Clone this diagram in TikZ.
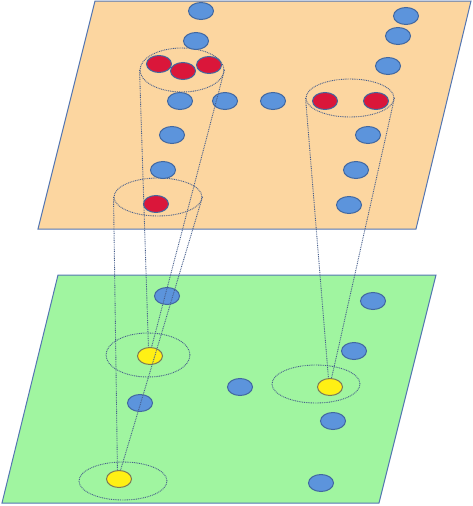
\documentclass[tikz,border=0pt]{standalone}
\usetikzlibrary{shapes.geometric}
\definecolor{planeedge}{RGB}{84,118,178}
\definecolor{orangefill}{RGB}{252,214,160}
\definecolor{greenfill}{RGB}{160,245,160}
\definecolor{bluedot}{RGB}{92,148,220}
\definecolor{dotedge}{RGB}{66,104,160}
\definecolor{reddot}{RGB}{218,22,58}
\definecolor{yellowdot}{RGB}{255,240,20}
\definecolor{dotline}{RGB}{70,94,140}
\tikzset{
  plane/.style={draw=planeedge, line width=1pt, line join=miter},
  pt/.style={ellipse, draw=dotedge, line width=1pt, minimum width=25pt, minimum height=17pt, inner sep=0pt},
  bpt/.style={pt, fill=bluedot},
  rpt/.style={pt, fill=reddot},
  ypt/.style={pt, fill=yellowdot, draw=black!60!yellow!80!gray},
  ring/.style={ellipse, draw=dotline, dash pattern=on 0.9pt off 0.9pt, line width=0.9pt, inner sep=0pt},
  cone/.style={draw=dotline, dash pattern=on 0.9pt off 0.9pt, line width=0.9pt}
}
\begin{document}
\begin{tikzpicture}[x=1pt,y=-1pt]
\useasboundingbox (0,0) rectangle (472,506);
% planes
\path[plane, fill=orangefill] (95,1) -- (471,1) -- (416,229) -- (38,229) -- cycle;
\path[plane, fill=greenfill] (58,275) -- (436,275) -- (379,503) -- (2,503) -- cycle;
% rings
\node[ring, minimum width=84pt, minimum height=44pt] (c1) at (182,70) {};
\node[ring, minimum width=88pt, minimum height=38pt] (c2) at (158,197) {};
\node[ring, minimum width=88pt, minimum height=38pt] (c3) at (350,98) {};
\node[ring, minimum width=84pt, minimum height=44pt] (d1) at (148,355) {};
\node[ring, minimum width=88pt, minimum height=38pt] (d2) at (123,481) {};
\node[ring, minimum width=88pt, minimum height=38pt] (d3) at (316,384) {};
% top plane points
\node[bpt] (t1) at (201,11) {};
\node[bpt] (t2) at (196,41) {};
\node[rpt] (r1) at (159,64) {};
\node[rpt] (r2) at (183,71) {};
\node[rpt] (r3) at (209,65) {};
\node[bpt] (t3) at (180,101) {};
\node[bpt] (t4) at (225,101) {};
\node[bpt] (t5) at (172,135) {};
\node[bpt] (t6) at (163,170) {};
\node[rpt] (r4) at (156,204) {};
\node[bpt] (t7) at (406,16) {};
\node[bpt] (t8) at (398,36) {};
\node[bpt] (t9) at (388,66) {};
\node[bpt] (t10) at (273,101) {};
\node[rpt] (r5) at (325,101) {};
\node[rpt] (r6) at (376,101) {};
\node[bpt] (t11) at (368,135) {};
\node[bpt] (t12) at (356,170) {};
\node[bpt] (t13) at (349,205) {};
% bottom plane points
\node[bpt] (b1) at (167,296) {};
\node[ypt] (y1) at (150,356) {};
\node[bpt] (b2) at (140,403) {};
\node[ypt] (y2) at (119,479) {};
\node[bpt] (b3) at (240,387) {};
\node[bpt] (b4) at (373,301) {};
\node[bpt] (b5) at (354,351) {};
\node[ypt] (y3) at (330,387) {};
\node[bpt] (b6) at (333,421) {};
\node[bpt] (b7) at (321,483) {};
% cone lines
\draw[cone] (c1.west) -- (y1.100);
\draw[cone] (c1.east) -- (y1.80);
\draw[cone] (c2.west) -- (y2.100);
\draw[cone] (c2.east) -- (y2.80);
\draw[cone] (c3.west) -- (y3.100);
\draw[cone] (c3.east) -- (y3.80);
\end{tikzpicture}
\end{document}
